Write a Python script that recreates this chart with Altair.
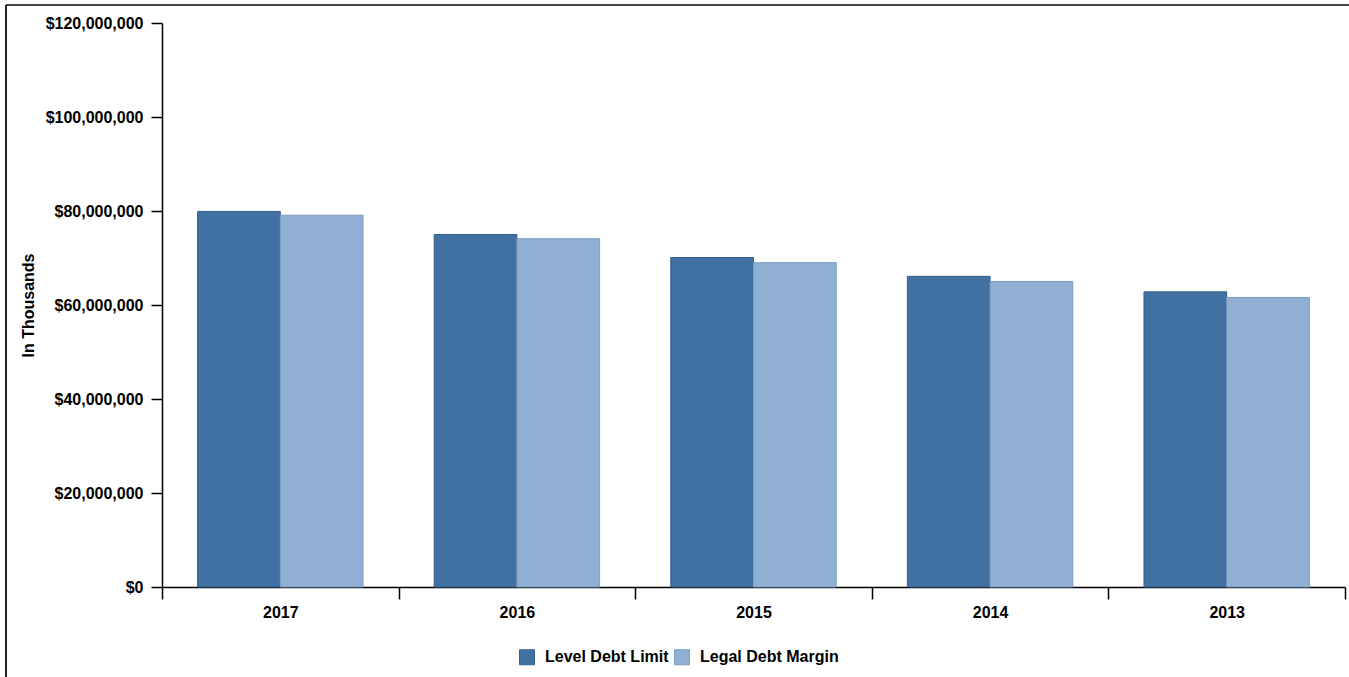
import altair as alt
import pandas as pd

years = ["2017", "2016", "2015", "2014", "2013"]
series = ["Level Debt Limit", "Legal Debt Margin"]
level_debt_limit = [79900000, 75000000, 70100000, 66100000, 62800000]
legal_debt_margin = [79100000, 74100000, 69000000, 65000000, 61600000]
colors = ["#4170a2", "#8fafd3"]
strokes = ["#35618f", "#7a9cc5"]

rows = []
for i, y in enumerate(years):
    rows.append({"year": y, "series": series[0], "value": level_debt_limit[i]})
    rows.append({"year": y, "series": series[1], "value": legal_debt_margin[i]})
df = pd.DataFrame(rows)

FONT = "Liberation Sans"

bars = alt.Chart(df).mark_bar(strokeWidth=1).encode(
    x=alt.X("year:N", sort=years, title=None,
            scale=alt.Scale(paddingInner=0, paddingOuter=0),
            axis=alt.Axis(labelAngle=0, tickBand="extent", tickSize=12,
                          labelPadding=5, labelFontSize=16, labelFont=FONT,
                          labelFontWeight="bold", labelColor="#000",
                          domainColor="#000", tickColor="#000",
                          domainWidth=1.5, tickWidth=1.5)),
    xOffset=alt.XOffset("series:N", sort=series,
                        scale=alt.Scale(paddingInner=0, paddingOuter=0.43)),
    y=alt.Y("value:Q", title="In Thousands",
            scale=alt.Scale(domain=[0, 120000000], nice=False),
            axis=alt.Axis(values=[0, 20000000, 40000000, 60000000, 80000000,
                                  100000000, 120000000],
                          format="$,.0f", grid=False, tickSize=11,
                          labelPadding=8, labelFontSize=16, labelFont=FONT,
                          labelFontWeight="bold", labelColor="#000",
                          titleFont=FONT, titleFontSize=16, titleFontWeight="bold",
                          titleColor="#000", titleX=-134, titleY=282,
                          titleAngle=270, titleAlign="center", titleBaseline="middle",
                          domainColor="#000", tickColor="#000",
                          domainWidth=1.5, tickWidth=1.5)),
    color=alt.Color("series:N", sort=series,
                    scale=alt.Scale(domain=series, range=colors),
                    legend=alt.Legend(title=None, orient="none", direction="horizontal",
                                      legendX=357, legendY=626,
                                      symbolType="square", symbolSize=225,
                                      symbolStrokeWidth=1, symbolStrokeColor="#6f8fb5",
                                      labelFont=FONT, labelFontSize=16,
                                      labelFontWeight="bold", labelColor="#000",
                                      labelOffset=10, columnPadding=3)),
    stroke=alt.Stroke("series:N", sort=series,
                      scale=alt.Scale(domain=series, range=strokes), legend=None),
)

frame_top = alt.Chart(df).mark_rule(color="#444", strokeWidth=2).encode(
    x=alt.value(-156), x2=alt.value(1200), y=alt.value(-18)
)
frame_left = alt.Chart(df).mark_rule(color="#222", strokeWidth=2).encode(
    x=alt.value(-156), y=alt.value(-18), y2=alt.value(660)
)

chart = alt.layer(bars, frame_top, frame_left).properties(
    width=1183, height=564,
    autosize=alt.AutoSizeParams(type="none"),
    padding={"left": 162, "top": 23, "right": 4, "bottom": 90},
).configure_view(stroke=None)

chart.save("out.html", embed_options={"renderer": "svg", "actions": False})
